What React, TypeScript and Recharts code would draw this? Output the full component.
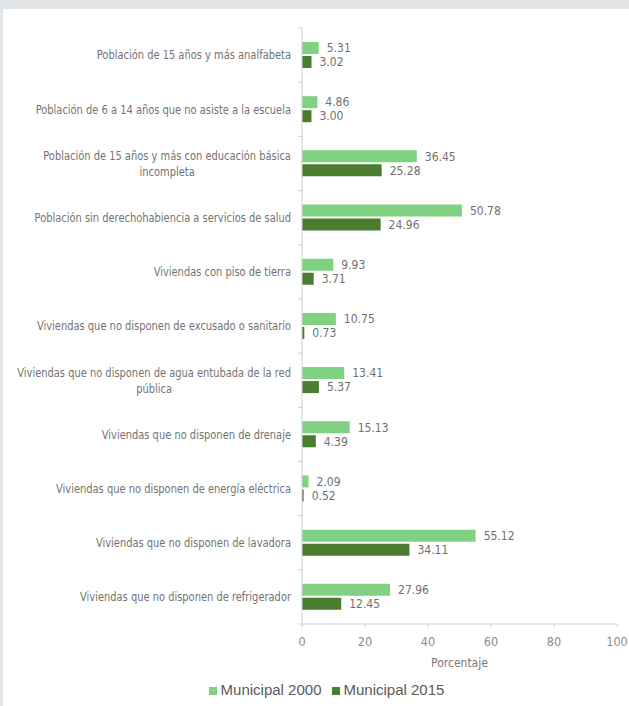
import React from "react";
import { BarChart, Bar, XAxis, YAxis, Legend, LabelList } from "recharts";

const categories = [
  "Población de 15 años y más analfabeta",
  "Población de 6 a 14 años que no asiste a la escuela",
  "Población de 15 años y más con educación básica\nincompleta",
  "Población sin derechohabiencia a servicios de salud",
  "Viviendas con piso de tierra",
  "Viviendas que no disponen de excusado o sanitario",
  "Viviendas que no disponen de agua entubada de la red\npública",
  "Viviendas que no disponen de drenaje",
  "Viviendas que no disponen de energía eléctrica",
  "Viviendas que no disponen de lavadora",
  "Viviendas que no disponen de refrigerador",
];
const municipal2000 = [5.31, 4.86, 36.45, 50.78, 9.93, 10.75, 13.41, 15.13, 2.09, 55.12, 27.96];
const municipal2015 = [3.02, 3.0, 25.28, 24.96, 3.71, 0.73, 5.37, 4.39, 0.52, 34.11, 12.45];
const xTicks = [0, 20, 40, 60, 80, 100];
const seriesNames = ["Municipal 2000", "Municipal 2015"];

const data = categories.map((c, i) => ({ name: c, m2000: municipal2000[i], m2015: municipal2015[i] }));

const FONT = "'DejaVu Sans Condensed', 'Liberation Sans', sans-serif";
const W = 629;
const H = 706;
const MARGIN = { top: 28, right: 12, left: 0, bottom: 8 };
const PLOT_H = 595;
const TICK_MARGIN = 11;
const SCALE_X = 0.88;
const LABEL_SIZE = 12.5;

let ctx: CanvasRenderingContext2D | null = null;
function measure(t: string, size: number) {
  if (!ctx) {
    const c = document.createElement("canvas");
    ctx = c.getContext("2d");
  }
  if (!ctx) return t.length * 5;
  ctx.font = `${size}px ${FONT}`;
  return ctx.measureText(t).width * SCALE_X;
}

const YTick = (props: any) => {
  const { x, y, payload, index } = props;
  const lines: string[] = String(payload.value).split("\n");
  const axisX = x + TICK_MARGIN;
  const half = PLOT_H / categories.length / 2;
  const maxW = Math.max(...lines.map((l) => measure(l, LABEL_SIZE)));
  const lh = 16;
  const startY = y - ((lines.length - 1) * lh) / 2;
  const multi = lines.length > 1;
  return (
    <g>
      <line x1={axisX - 4} x2={axisX} y1={y - half} y2={y - half} stroke="#cfcfcf" />
      {index === categories.length - 1 && (
        <line x1={axisX - 4} x2={axisX} y1={y + half} y2={y + half} stroke="#cfcfcf" />
      )}
      {lines.map((l, i) => (
        <text
          key={i}
          transform={`translate(${multi ? x - maxW / 2 : x},${startY + i * lh}) scale(${SCALE_X},1)`}
          x={0}
          y={0}
          dy="0.35em"
          textAnchor={multi ? "middle" : "end"}
          fill="#737373"
          fontSize={LABEL_SIZE}
          fontFamily={FONT}
        >
          {l}
        </text>
      ))}
    </g>
  );
};

const fmt = (v: any) => Number(v).toFixed(2);

export default function App() {
  return (
    <div style={{ position: "absolute", left: 0, top: 0, width: W, height: H, background: "#fff", overflow: "hidden" }}>
      <div style={{ position: "absolute", left: 0, top: 0, width: W, height: 9, background: "#e3e6e9" }} />
      <div style={{ position: "absolute", left: 0, top: 0, width: 3, height: H, background: "#e3e6e9" }} />
      <div style={{ position: "absolute", left: 0, top: 0 }}>
        <BarChart
          width={W}
          height={H}
          data={data}
          layout="vertical"
          margin={MARGIN}
          barSize={12}
          barGap={2}
        >
          <XAxis
            type="number"
            domain={[0, 100]}
            ticks={xTicks}
            axisLine={{ stroke: "#cfcfcf" }}
            tickLine={{ stroke: "#cfcfcf" }}
            tickSize={3}
            tickMargin={10}
            tick={{ fill: "#8a8a8a", fontSize: 12.5, fontFamily: FONT }}
            height={57}
            label={{ value: "Porcentaje", position: "insideBottom", offset: 14, fill: "#7a7a7a", fontSize: 12, fontFamily: FONT }}
          />
          <YAxis
            type="category"
            dataKey="name"
            width={302}
            axisLine={{ stroke: "#cfcfcf" }}
            tickLine={false}
            tickSize={0}
            tickMargin={TICK_MARGIN}
            interval={0}
            tick={<YTick />}
          />
          <Legend
            verticalAlign="bottom"
            iconType="square"
            iconSize={8}
            wrapperStyle={{ fontFamily: "'Liberation Sans', sans-serif", fontSize: 15, paddingLeft: 23 }}
            formatter={(v: string) => <span style={{ color: "#5a5a5a" }}>{v}</span>}
          />
          <Bar dataKey="m2000" name={seriesNames[0]} fill="#80d282" isAnimationActive={false}>
            <LabelList
              dataKey="m2000"
              position="right"
              offset={8}
              formatter={fmt}
              style={{ fill: "#6f6f6f", fontSize: 12, fontFamily: FONT }}
            />
          </Bar>
          <Bar dataKey="m2015" name={seriesNames[1]} fill="#4a7d2f" isAnimationActive={false}>
            <LabelList
              dataKey="m2015"
              position="right"
              offset={8}
              formatter={fmt}
              style={{ fill: "#6f6f6f", fontSize: 12, fontFamily: FONT }}
            />
          </Bar>
        </BarChart>
      </div>
    </div>
  );
}
